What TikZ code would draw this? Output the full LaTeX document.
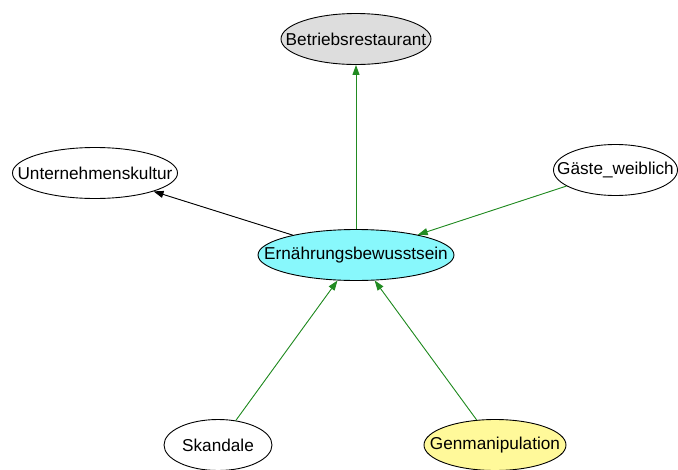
\documentclass[tikz,border=0pt]{standalone}
\usepackage{fontspec}
\setmainfont{Liberation Sans}
\usetikzlibrary{shapes.geometric,arrows.meta}
\definecolor{edgegreen}{HTML}{228B22}
\definecolor{nodegray}{HTML}{DDDDDD}
\definecolor{nodecyan}{HTML}{88F8FC}
\definecolor{nodeyellow}{HTML}{FFF99A}
% zero-width label so the ellipse size is set only by minimum width/height
\newcommand\varlabel[1]{\makebox[0pt][c]{#1}}
\begin{document}
\begin{tikzpicture}[x=1pt,y=-1pt,
  var/.style={ellipse,draw=black,line width=0.9pt,inner sep=0pt,
    minimum height=51pt,font=\fontsize{17.2}{19}\selectfont},
  link/.style={line width=0.9pt,-{Triangle[length=10pt,width=7pt]}},
  greenlink/.style={link,draw=edgegreen,fill=edgegreen},
  blacklink/.style={link,draw=black,fill=black}]
\useasboundingbox (0,0) rectangle (678,469);
\node[var,fill=nodegray,minimum width=150pt] (betrieb) at (356,39) {\varlabel{Betriebsrestaurant}};
\node[var,fill=white,minimum width=165pt] (kultur) at (95,173) {\varlabel{Unternehmenskultur}};
\node[var,fill=white,minimum width=124pt] (gaeste) at (615.5,170) {\varlabel{Gäste\_weiblich}};
\node[var,fill=nodecyan,minimum width=196pt] (ernaehrung) at (356,255) {\varlabel{Ernährungsbewusstsein}};
\node[var,fill=white,minimum width=108pt] (skandale) at (218,445) {\varlabel{Skandale}};
\node[var,fill=nodeyellow,minimum width=142pt] (gen) at (495,445) {\varlabel{Genmanipulation}};
\draw[greenlink] (ernaehrung.north) -- (betrieb);
\draw[blacklink] (ernaehrung) -- (kultur);
\draw[greenlink] (gaeste) -- (ernaehrung);
\draw[greenlink] (skandale) -- (ernaehrung);
\draw[greenlink] (gen) -- (ernaehrung);
\end{tikzpicture}
\end{document}
